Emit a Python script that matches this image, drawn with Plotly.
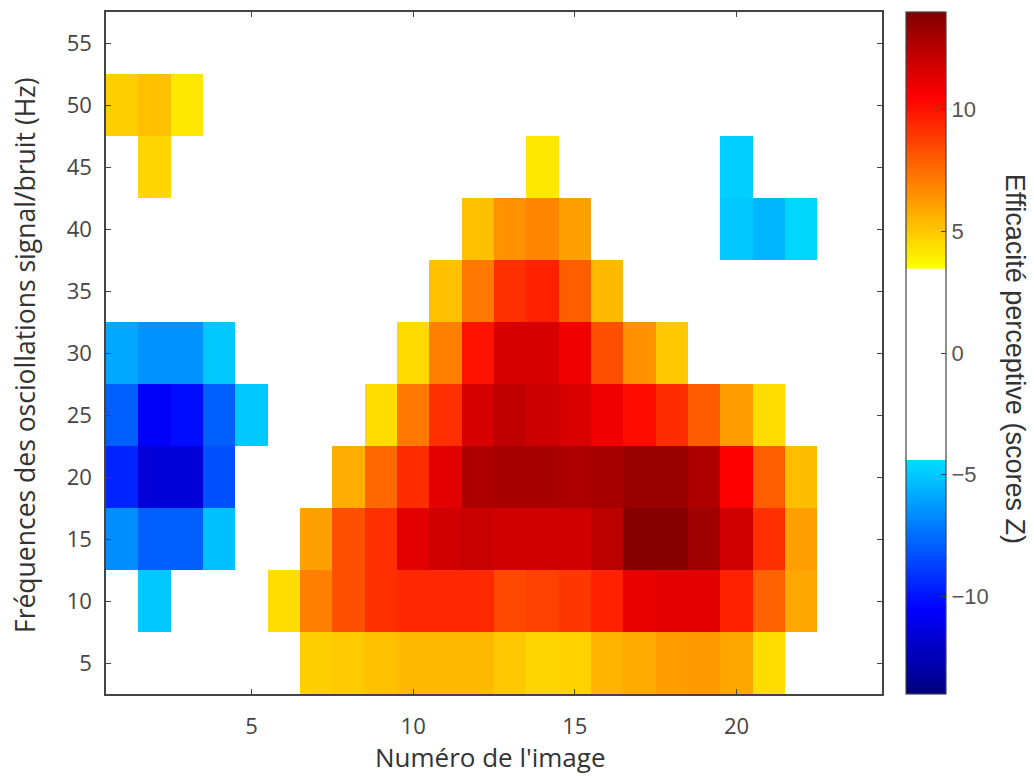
import plotly.graph_objects as go

N = None
image_numbers = list(range(1, 25))
frequencies = [5, 10, 15, 20, 25, 30, 35, 40, 45, 50, 55]

# z-scores per frequency row, columns = image 1..24 (None = non significant)
z_5hz  = [N, N, N, N, N, N, 4.8, 4.9, 5.2, 5.4, 5.4, 5.4, 5.0, 4.6, 4.7, 5.5, 5.8, 6.2, 6.3, 5.9, 4.4, N, N, N]
z_10hz = [N, -5.0, N, N, N, 4.4, 7.0, 8.3, 9.2, 9.4, 9.4, 9.4, 8.5, 8.7, 9.0, 9.6, 11.1, 11.3, 11.3, 9.6, 7.8, 5.9, N, N]
z_15hz = [-6.6, -7.9, -7.9, -5.2, N, N, 6.1, 8.3, 9.2, 11.3, 11.8, 12.0, 11.8, 11.8, 11.8, 12.4, 13.8, 13.8, 13.1, 11.8, 9.2, 6.1, N, N]
z_20hz = [-9.5, -11.6, -11.6, -8.3, N, N, N, 5.7, 7.6, 9.3, 11.3, 12.7, 12.9, 12.9, 12.7, 12.9, 13.3, 13.3, 12.7, 10.5, 7.9, 5.3, N, N]
z_25hz = [-7.9, -10.7, -10.2, -7.9, -5.0, N, N, N, 4.4, 7.2, 9.2, 11.6, 12.3, 11.9, 11.5, 10.9, 10.2, 9.3, 8.0, 6.2, 4.4, N, N, N]
z_30hz = [-5.9, -6.5, -6.5, -5.0, N, N, N, N, N, 4.5, 7.0, 10.0, 11.6, 11.6, 10.9, 8.3, 6.5, 5.0, N, N, N, N, N, N]
z_35hz = [N, N, N, N, N, N, N, N, N, N, 5.2, 7.2, 9.2, 9.6, 7.9, 5.4, N, N, N, N, N, N, N, N]
z_40hz = [N, N, N, N, N, N, N, N, N, N, N, 5.2, 6.5, 6.8, 6.1, N, N, N, N, -5.0, -5.5, -4.6, N, N]
z_45hz = [N, 4.6, N, N, N, N, N, N, N, N, N, N, N, 4.1, N, N, N, N, N, -4.8, N, N, N, N]
z_50hz = [4.8, 5.2, 4.1, N, N, N, N, N, N, N, N, N, N, N, N, N, N, N, N, N, N, N, N, N]
z_55hz = [N] * 24

z_rows = [z_5hz, z_10hz, z_15hz, z_20hz, z_25hz, z_30hz, z_35hz, z_40hz, z_45hz, z_50hz, z_55hz]

x_ticks = [5, 10, 15, 20]
y_ticks = [5, 10, 15, 20, 25, 30, 35, 40, 45, 50, 55]
cbar_ticks = [-10, -5, 0, 5, 10]

zmin, zmax = -14.0, 14.0
low_thr, high_thr = -4.38, 3.47
t_lo = (low_thr - zmin) / (zmax - zmin)
t_hi = (high_thr - zmin) / (zmax - zmin)
g_lo = int(round(255 * (t_lo - 0.125) / 0.25))

colorscale = [
    [0.0, "rgb(0,0,128)"],
    [0.125, "rgb(0,0,255)"],
    [t_lo, f"rgb(0,{g_lo},255)"],
    [t_lo + 1e-4, "rgb(255,255,255)"],
    [t_hi - 1e-4, "rgb(255,255,255)"],
    [t_hi, "rgb(255,255,0)"],
    [0.875, "rgb(255,0,0)"],
    [1.0, "rgb(128,0,0)"],
]

FONT = "Open Sans"
CB_FONT = "Liberation Sans"
fig = go.Figure(
    go.Heatmap(
        x=image_numbers,
        y=frequencies,
        z=z_rows,
        zmin=zmin,
        zmax=zmax,
        colorscale=colorscale,
        hoverongaps=False,
        colorbar=dict(
            x=1.031, xanchor="left", xpad=0,
            y=0.5, yanchor="middle", len=1.0, lenmode="fraction", ypad=0,
            thickness=40,
            outlinewidth=1.2, outlinecolor="#444",
            tickvals=cbar_ticks,
            ticks="inside", ticklen=5, tickcolor="#444",
            tickfont=dict(family=CB_FONT, size=22, color="#555"),
        ),
    )
)

axis_common = dict(
    showline=True, linecolor="#444", linewidth=1.5, mirror="ticks",
    ticks="inside", ticklen=5, tickcolor="#444", tickwidth=1.2,
    showgrid=False, zeroline=False,
    tickfont=dict(family=FONT, size=22, color="#444"),
)

fig.update_layout(
    width=1034, height=776,
    margin=dict(l=106, r=152, t=10, b=82),
    paper_bgcolor="white", plot_bgcolor="white",
    xaxis=dict(range=[0.5, 24.5], tickvals=x_ticks, ticklabelstandoff=12, **axis_common),
    yaxis=dict(range=[2.5, 57.5], tickvals=y_ticks, ticklabelstandoff=8, **axis_common),
    annotations=[
        dict(text="Numéro de l'image", x=0.4955, y=-0.092, xref="paper", yref="paper",
             xanchor="center", yanchor="middle", showarrow=False,
             font=dict(family=FONT, size=26, color="#333")),
        dict(text="Fréquences des osciollations signal/bruit (Hz)", textangle=-90,
             x=-0.1044, y=0.497, xref="paper", yref="paper",
             xanchor="center", yanchor="middle", showarrow=False,
             font=dict(family=FONT, size=26.5, color="#333")),
        dict(text="Efficacité perceptive (scores Z)", textangle=90,
             x=1.171, y=0.492, xref="paper", yref="paper",
             xanchor="center", yanchor="middle", showarrow=False,
             font=dict(family=CB_FONT, size=27, color="#333")),
    ],
)

fig.write_html("out.html", config={"displayModeBar": False},
               post_script="document.body.style.margin='0px';")
